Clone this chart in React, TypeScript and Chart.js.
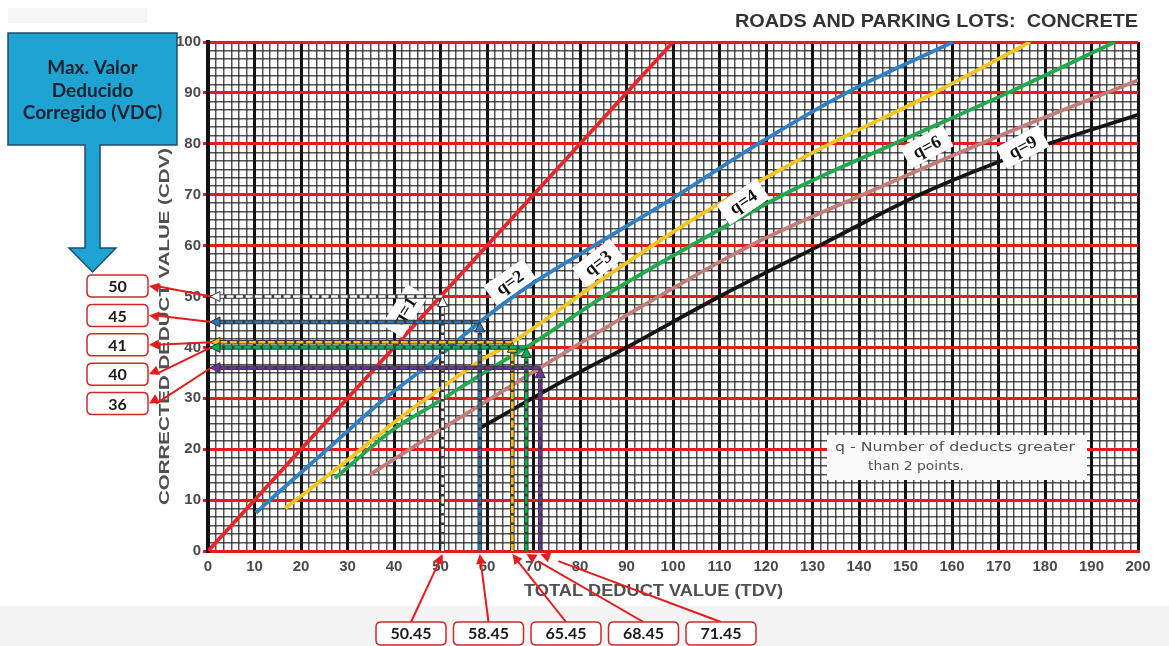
import React, { useEffect, useRef } from 'react';
import { Chart, registerables } from 'chart.js';

Chart.register(...registerables);

// ---- Correction curves: Total Deduct Value (x) vs Corrected Deduct Value (y) ----
const q1Tdv = [0, 100];
const q1Cdv = [0, 100];

const q2Tdv = [10.3, 13.3, 25.7, 37.7, 48.7, 58.45, 68, 83, 99.4, 118.3, 137.3, 160.2];
const q2Cdv = [7.5, 10, 20, 29.7, 37.5, 45, 51.5, 60, 69, 80, 90, 100];

const q3Tdv = [16.6, 30.5, 40.2, 49.5, 58.8, 65.45, 85, 105.8, 131.6, 154, 176.8];
const q3Cdv = [8.4, 18.2, 25.4, 31.6, 37.5, 41, 53.5, 66, 79, 89, 100];

const q4Tdv = [27.3, 40.2, 47.7, 56, 63.8, 68.45, 86, 105.8, 127, 150, 172, 195];
const q4Cdv = [14.3, 24.1, 28.3, 33.1, 37.5, 40, 50.5, 61, 71.5, 81, 90, 100];

const q6Tdv = [34.8, 47.7, 60, 71.45, 90, 116.6, 142, 170, 200];
const q6Cdv = [15, 22.5, 29.5, 36, 46.3, 60, 70.5, 81.5, 92.5];

const q9Tdv = [58.4, 77.4, 90, 110, 131.5, 153, 176, 200];
const q9Cdv = [24.1, 33.9, 40, 50, 60, 70, 78.5, 85.7];

const curveNames = ['q=1', 'q=2', 'q=3', 'q=4', 'q=6', 'q=9'];
const curveColors = ['#e8262a', '#2f80c4', '#f6c41e', '#22a94e', '#c47c78', '#141414'];

// Curve tags (position in chart units, rotation in degrees)
const tagTdv = [42.3, 64.9, 83.9, 115.1, 154.6, 175.2];
const tagCdv = [47.2, 52.8, 56.6, 68.6, 79.4, 79.4];
const tagAngle = [-58, -35, -38, -34, -28, -28];

// Worked readings: TDV read on the axis, CDV found on each curve
const readTdv = [50.45, 58.45, 65.45, 68.45, 71.45];
const readCdv = [50, 45, 41, 40, 36];
const readColors = ['#ffffff', '#2e75b6', '#ffc000', '#00b050', '#7030a0'];

// Axis ticks
const tdvLabels = ['0', '10', '20', '30', '40', '50', '60', '70', '80', '90', '100', '110', '120', '130', '140', '150', '160', '170', '180', '190', '200'];
const cdvLabels = ['0', '10', '20', '30', '40', '50', '60', '70', '80', '90', '100'];
const SUB = 6; // fine graph-paper divisions per major square

const chartTitle = 'ROADS AND PARKING LOTS:  CONCRETE';
const xTitle = 'TOTAL DEDUCT VALUE (TDV)';
const yTitle = 'CORRECTED DEDUCT VALUE (CDV)';
const noteLines = ['q - Number of deducts greater', 'than 2 points.'];
const calloutLines = ['Max. Valor', 'Deducido', 'Corregido (VDC)'];

const RED = '#e51c1c';
const MINOR = 'rgba(25,25,25,0.75)';

function toPoints(xs: number[], ys: number[]) {
  return xs.map((x, i) => ({ x, y: ys[i] }));
}

function arrowHead(ctx: CanvasRenderingContext2D, tipX: number, tipY: number, fromX: number, fromY: number, len: number, half: number, fill: string, stroke?: string) {
  const a = Math.atan2(tipY - fromY, tipX - fromX);
  ctx.save();
  ctx.translate(tipX, tipY);
  ctx.rotate(a);
  ctx.beginPath();
  ctx.moveTo(0, 0);
  ctx.lineTo(-len, -half);
  ctx.lineTo(-len, half);
  ctx.closePath();
  ctx.fillStyle = fill;
  ctx.fill();
  if (stroke) {
    ctx.strokeStyle = stroke;
    ctx.lineWidth = 1;
    ctx.stroke();
  }
  ctx.restore();
}

function fitText(ctx: CanvasRenderingContext2D, text: string, x: number, y: number, width: number, font: string, color: string) {
  ctx.save();
  ctx.font = font;
  const w = ctx.measureText(text).width;
  ctx.translate(x, y);
  ctx.scale(width / w, 1);
  ctx.textAlign = 'left';
  ctx.textBaseline = 'middle';
  ctx.fillStyle = color;
  ctx.fillText(text, 0, 0);
  ctx.restore();
}

function roundBox(ctx: CanvasRenderingContext2D, x: number, y: number, w: number, h: number, r: number) {
  ctx.beginPath();
  ctx.moveTo(x + r, y);
  ctx.lineTo(x + w - r, y);
  ctx.quadraticCurveTo(x + w, y, x + w, y + r);
  ctx.lineTo(x + w, y + h - r);
  ctx.quadraticCurveTo(x + w, y + h, x + w - r, y + h);
  ctx.lineTo(x + r, y + h);
  ctx.quadraticCurveTo(x, y + h, x, y + h - r);
  ctx.lineTo(x, y + r);
  ctx.quadraticCurveTo(x, y, x + r, y);
  ctx.closePath();
}

function dashedRead(ctx: CanvasRenderingContext2D, x1: number, y1: number, x2: number, y2: number, color: string) {
  ctx.save();
  ctx.lineCap = 'butt';
  ctx.strokeStyle = '#3a3a3a';
  ctx.lineWidth = 4.5;
  ctx.beginPath();
  ctx.moveTo(x1, y1);
  ctx.lineTo(x2, y2);
  ctx.stroke();
  ctx.strokeStyle = color;
  ctx.lineWidth = 2.6;
  ctx.setLineDash([7, 2.5]);
  ctx.beginPath();
  ctx.moveTo(x1, y1);
  ctx.lineTo(x2, y2);
  ctx.stroke();
  ctx.restore();
}

const overlay = {
  id: 'overlay',
  beforeDraw(chart: any) {
    const { ctx, width, height } = chart;
    ctx.save();
    ctx.fillStyle = '#ffffff';
    ctx.fillRect(0, 0, width, height);
    ctx.fillStyle = '#f6f6f6';
    ctx.fillRect(8, 8, 139, 15);
    ctx.fillStyle = '#f4f4f4';
    ctx.fillRect(0, 606, width, height - 606);
    ctx.restore();
  },
  afterDatasetsDraw(chart: any) {
    const { ctx } = chart;
    const xs = chart.scales.x;
    const ys = chart.scales.y;

    // curve tags
    curveNames.forEach((name, i) => {
      const px = xs.getPixelForValue(tagTdv[i]);
      const py = ys.getPixelForValue(tagCdv[i]);
      ctx.save();
      ctx.translate(px, py);
      ctx.rotate((tagAngle[i] * Math.PI) / 180);
      ctx.shadowColor = 'rgba(0,0,0,0.35)';
      ctx.shadowBlur = 2;
      ctx.fillStyle = '#ffffff';
      ctx.fillRect(-24, -12, 48, 24);
      ctx.shadowBlur = 0;
      ctx.fillStyle = '#111111';
      ctx.font = 'bold 18px "Liberation Serif", serif';
      ctx.textAlign = 'center';
      ctx.textBaseline = 'middle';
      ctx.fillText(name, 0, 1);
      ctx.restore();
    });

    // note box
    ctx.save();
    ctx.fillStyle = '#fafafa';
    ctx.fillRect(827, 435, 260, 45);
    ctx.restore();
    fitText(ctx, noteLines[0], 835, 448, 240, '13px "DejaVu Sans", sans-serif', '#505050');
    fitText(ctx, noteLines[1], 868, 467, 96, '13px "DejaVu Sans", sans-serif', '#505050');

    // reading lines
    const x0 = xs.getPixelForValue(0);
    const y0 = ys.getPixelForValue(0);
    readTdv.forEach((v, i) => {
      const px = xs.getPixelForValue(v);
      const py = ys.getPixelForValue(readCdv[i]);
      const c = readColors[i];
      dashedRead(ctx, px, py, x0 + 11, py, c);
      arrowHead(ctx, x0 + 2, py, px, py, 10, 5, c, '#333333');
      dashedRead(ctx, px, y0, px, py + 11, c);
      arrowHead(ctx, px, py, px, y0, 10, 5, c, '#333333');
    });
  },
  afterDraw(chart: any) {
    const { ctx } = chart;
    const xs = chart.scales.x;
    const ys = chart.scales.y;

    // titles
    fitText(ctx, chartTitle, 735, 22, 403, 'bold 18px "Liberation Sans", sans-serif', '#333333');
    fitText(ctx, xTitle, 524, 592, 259, 'bold 16px "Liberation Sans", sans-serif', '#505050');
    ctx.save();
    ctx.translate(165, 505);
    ctx.rotate(-Math.PI / 2);
    fitText(ctx, yTitle, 0, 0, 357, 'bold 14px "Liberation Sans", sans-serif', '#505050');
    ctx.restore();

    // callout
    ctx.save();
    ctx.beginPath();
    ctx.moveTo(8, 33);
    ctx.lineTo(177, 33);
    ctx.lineTo(177, 145);
    ctx.lineTo(100, 145);
    ctx.lineTo(100, 248);
    ctx.lineTo(116, 248);
    ctx.lineTo(92.5, 272);
    ctx.lineTo(69, 248);
    ctx.lineTo(85, 248);
    ctx.lineTo(85, 145);
    ctx.lineTo(8, 145);
    ctx.closePath();
    ctx.fillStyle = '#1fa3d2';
    ctx.fill();
    ctx.strokeStyle = '#1e4d6b';
    ctx.lineWidth = 1.5;
    ctx.stroke();
    ctx.fillStyle = '#16222e';
    ctx.font = 'bold 19px Lato, "Open Sans", sans-serif';
    ctx.textAlign = 'center';
    ctx.textBaseline = 'middle';
    calloutLines.forEach((t, i) => ctx.fillText(t, 92.5, 68 + i * 22.5));
    ctx.restore();

    const x0 = xs.getPixelForValue(0);
    const y0 = ys.getPixelForValue(0);

    // CDV result boxes (left)
    readCdv.forEach((v, i) => {
      const cy = 286 + i * 29.4;
      const py = ys.getPixelForValue(v);
      ctx.save();
      ctx.strokeStyle = RED;
      ctx.lineWidth = 2;
      ctx.beginPath();
      ctx.moveTo(x0 + 3, py);
      ctx.lineTo(156, cy);
      ctx.stroke();
      arrowHead(ctx, 149, cy, x0 + 3, py, 10, 5, RED);
      ctx.fillStyle = '#ffffff';
      roundBox(ctx, 87, cy - 11, 61, 22, 5);
      ctx.fill();
      ctx.lineWidth = 1.5;
      ctx.strokeStyle = '#cc2b2b';
      ctx.stroke();
      ctx.fillStyle = '#1a1a1a';
      ctx.font = 'bold 16px Lato, "Open Sans", sans-serif';
      ctx.textAlign = 'center';
      ctx.textBaseline = 'middle';
      ctx.fillText(String(v), 117.5, cy + 1);
      ctx.restore();
    });

    // TDV boxes (bottom)
    readTdv.forEach((v, i) => {
      const cx = 411 + i * 77.5;
      const px = xs.getPixelForValue(v);
      ctx.save();
      ctx.strokeStyle = RED;
      ctx.lineWidth = 2;
      ctx.beginPath();
      ctx.moveTo(cx, 622);
      ctx.lineTo(px + (cx - px) * 0.1, y0 + 3 + (622 - y0) * 0.1);
      ctx.stroke();
      arrowHead(ctx, px, y0 + 3, cx, 622, 10, 5, RED);
      ctx.fillStyle = '#ffffff';
      roundBox(ctx, cx - 35, 622, 70, 23, 5);
      ctx.fill();
      ctx.lineWidth = 1.5;
      ctx.strokeStyle = '#cc2b2b';
      ctx.stroke();
      ctx.fillStyle = '#1a1a1a';
      ctx.font = 'bold 16px Lato, "Open Sans", sans-serif';
      ctx.textAlign = 'center';
      ctx.textBaseline = 'middle';
      ctx.fillText(v.toFixed(2), cx, 634);
      ctx.restore();
    });
  },
};

export default function App() {
  const canvasRef = useRef<HTMLCanvasElement | null>(null);

  useEffect(() => {
    if (!canvasRef.current) return;
    const series = [
      toPoints(q1Tdv, q1Cdv),
      toPoints(q2Tdv, q2Cdv),
      toPoints(q3Tdv, q3Cdv),
      toPoints(q4Tdv, q4Cdv),
      toPoints(q6Tdv, q6Cdv),
      toPoints(q9Tdv, q9Cdv),
    ];
    const xGrid = Array.from({ length: 20 * SUB + 1 }, (_, i) => (i * 10) / SUB);
    const yGrid = Array.from({ length: 10 * SUB + 1 }, (_, i) => (i * 10) / SUB);
    const tickFont = { family: '"Liberation Sans", Arial, sans-serif', size: 15, weight: 'bold' as const };

    const chart = new Chart(canvasRef.current, {
      type: 'line',
      data: {
        datasets: series.map((data, i) => ({
          label: curveNames[i],
          data,
          borderColor: curveColors[i],
          backgroundColor: curveColors[i],
          borderWidth: 3.8,
          pointRadius: 0,
          cubicInterpolationMode: 'monotone' as const,
          fill: false,
        })),
      },
      options: {
        responsive: false,
        animation: false,
        devicePixelRatio: 1,
        layout: { padding: { left: 0, top: 42, right: 31, bottom: 0 } },
        plugins: {
          legend: { display: false },
          tooltip: { enabled: false },
          title: { display: false },
        },
        scales: {
          x: {
            type: 'linear',
            min: 0,
            max: 200,
            afterFit: (s: any) => {
              s.height = 95;
            },
            afterBuildTicks: (s: any) => {
              s.ticks = xGrid.map((value) => ({ value }));
            },
            ticks: {
              autoSkip: false,
              maxRotation: 0,
              padding: 7,
              color: '#4a4a4a',
              font: tickFont,
              callback: (_v: any, i: number) => (i % SUB === 0 ? tdvLabels[i / SUB] : ''),
            },
            grid: {
              z: -2,
              drawTicks: false,
              color: (c: any) => (c.index % SUB === 0 ? '#121212' : MINOR),
              lineWidth: (c: any) => (c.index % SUB === 0 ? 3 : 1.5),
            },
            border: { color: RED, width: 3 },
          },
          y: {
            type: 'linear',
            min: 0,
            max: 100,
            afterFit: (s: any) => {
              s.width = 208;
            },
            afterBuildTicks: (s: any) => {
              s.ticks = yGrid.map((value) => ({ value }));
            },
            ticks: {
              autoSkip: false,
              padding: 2,
              color: '#4a4a4a',
              font: tickFont,
              callback: (_v: any, i: number) => (i % SUB === 0 ? cdvLabels[i / SUB] : ''),
            },
            grid: {
              z: -1,
              tickLength: 5,
              tickColor: (c: any) => (c.index % SUB === 0 ? RED : 'rgba(0,0,0,0)'),
              color: (c: any) => (c.index % SUB === 0 ? RED : MINOR),
              lineWidth: (c: any) => (c.index % SUB === 0 ? 3 : 1.5),
            },
            border: { color: '#121212', width: 4 },
          },
        },
      },
      plugins: [overlay],
    });
    return () => chart.destroy();
  }, []);

  return (
    <div style={{ position: 'absolute', left: 0, top: 0, width: 1169, height: 646 }}>
      <canvas ref={canvasRef} width={1169} height={646} />
    </div>
  );
}
